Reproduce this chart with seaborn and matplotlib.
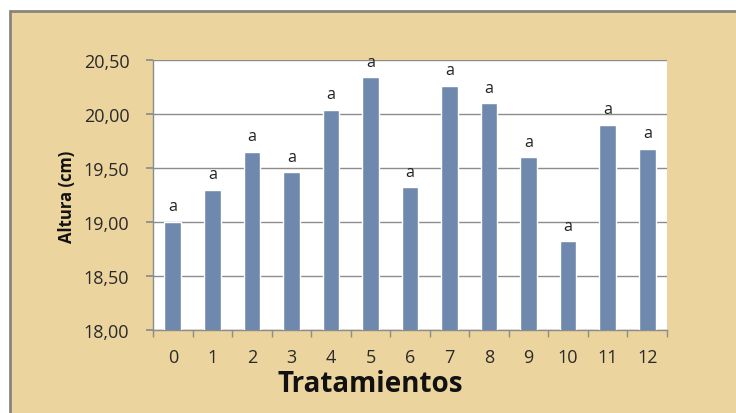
import matplotlib
matplotlib.use("Agg")
import matplotlib.pyplot as plt
import matplotlib.patches as mpatches
import seaborn as sns
import pandas as pd
import numpy as np

# Plant height per treatment
tratamientos = ["0", "1", "2", "3", "4", "5", "6", "7", "8", "9", "10", "11", "12"]
altura = [19.00, 19.30, 19.65, 19.46, 20.04, 20.34, 19.32, 20.26, 20.10, 19.60, 18.82, 19.90, 19.68]
letras = ["a"] * 13
yticks = [18.0, 18.5, 19.0, 19.5, 20.0, 20.5]
ytick_labels = ["18,00", "18,50", "19,00", "19,50", "20,00", "20,50"]

df = pd.DataFrame({"Tratamiento": tratamientos, "Altura": altura})

sns.set_theme(style="white")
plt.rcParams["font.family"] = ["Open Sans", "DejaVu Sans"]

fig = plt.figure(figsize=(7.36, 4.14), dpi=100)
fig.patch.set_facecolor("white")

# parchment panel with grey frame, drawn on a background axes
bg = fig.add_axes([0, 0, 1, 1], zorder=0)
bg.set_xlim(0, 736)
bg.set_ylim(414, 0)
bg.axis("off")
bg.add_patch(mpatches.Rectangle((10, 12), 740, 420, facecolor="#EBD49E",
                                edgecolor="#8A8478", linewidth=2))

ax = fig.add_axes([153 / 736, 1 - 331 / 414, (667 - 153) / 736, (331 - 61) / 414], zorder=1)
ax.set_facecolor("white")

sns.barplot(data=df, x="Tratamiento", y="Altura", color="#6F89AE", saturation=1,
            width=0.42, ax=ax, zorder=3)

ax.set_ylim(18.0, 20.5)
ax.set_xlim(-0.5, len(tratamientos) - 0.5)
ax.set_yticks(yticks)
ax.set_yticklabels(ytick_labels)
ax.yaxis.grid(True, color="#8C8C8C", linewidth=1, zorder=1)
ax.set_axisbelow(True)

for i, (v, t) in enumerate(zip(altura, letras)):
    ax.text(i, v + 0.07, t, ha="center", va="bottom", fontsize=11.5, color="#222222")

for side in ["top", "right"]:
    ax.spines[side].set_visible(False)
for side in ["left", "bottom"]:
    ax.spines[side].set_color("#8C8C8C")
    ax.spines[side].set_linewidth(1)

# category boundary ticks on x, gridline ticks on y
ax.set_xticks(np.arange(len(tratamientos)))
ax.set_xticklabels(tratamientos)
ax.set_xticks(np.arange(-0.5, len(tratamientos) + 0.5, 1), minor=True)
ax.tick_params(axis="x", which="major", length=0, pad=13, labelsize=13, labelcolor="#2A2A2A")
ax.tick_params(axis="x", which="minor", length=5, color="#8C8C8C", direction="out", bottom=True)
ax.tick_params(axis="y", which="major", length=5, color="#8C8C8C", direction="out", left=True,
               labelsize=13, labelcolor="#2A2A2A", pad=12)

ax.set_xlabel("")
ax.set_ylabel("")

fig.text(370 / 736, 1 - 385 / 414, "Tratamientos", ha="center", va="center",
         fontsize=20, fontweight="bold", color="#111111")
fig.text(67 / 736, 1 - 197 / 414, "Altura (cm)", ha="center", va="center", rotation=90,
         fontsize=12, fontweight="bold", color="#111111")

fig.savefig("out.png", dpi=100)
